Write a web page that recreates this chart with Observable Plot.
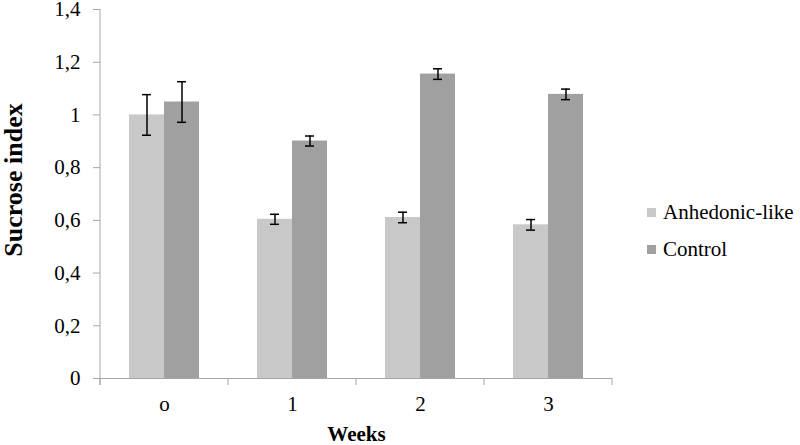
<!DOCTYPE html>
<html><head><meta charset="utf-8">
<script src="https://cdn.jsdelivr.net/npm/d3@7"></script>
<script src="https://cdn.jsdelivr.net/npm/@observablehq/plot@0.6"></script>
<style>
body{margin:0;background:#fff;}
#wrap{position:relative;width:800px;height:445px;font-family:"Liberation Serif","Times New Roman",serif;}
#wrap svg, #wrap svg text{font-family:"Liberation Serif","Times New Roman",serif !important;}
#legend{position:absolute;left:647px;top:0;font-size:21px;color:#000;}
.item{position:absolute;left:0;white-space:nowrap;display:flex;align-items:center;height:24px;line-height:24px;}
.sw{width:9px;height:9px;margin-right:7px;margin-top:1px;}
</style></head><body><div id="wrap"><div id="legend"></div></div>
<script>
const weeks = ["o", "1", "2", "3"];
const groups = ["Anhedonic-like", "Control"];
const anhedonic = [1.0, 0.604, 0.611, 0.583];
const anhedonicErr = [0.077, 0.019, 0.02, 0.02];
const control = [1.049, 0.901, 1.155, 1.078];
const controlErr = [0.077, 0.019, 0.02, 0.02];
const yTicks = [0, 0.2, 0.4, 0.6, 0.8, 1, 1.2, 1.4];
const colors = ["#c8c8c8", "#a0a0a0"];

const rows = [];
weeks.forEach((w, i) => {
  rows.push({week: w, group: groups[0], value: anhedonic[i], err: anhedonicErr[i]});
  rows.push({week: w, group: groups[1], value: control[i], err: controlErr[i]});
});

const fmt = d => String(Math.round(d * 10) / 10).replace(".", ",");

const chart = Plot.plot({
  width: 800,
  height: 445,
  marginLeft: 99,
  marginRight: 187,
  marginTop: 9,
  marginBottom: 67,
  style: {fontFamily: "Liberation Serif", fontSize: "21px", color: "#000", background: "#fff"},
  fx: {domain: weeks, padding: 0, label: "Weeks", axis: "bottom", tickSize: 0, tickPadding: 18, labelAnchor: "center", labelOffset: 62, labelArrow: false},
  x: {domain: groups, axis: null, paddingInner: 0, paddingOuter: 0.785},
  y: {domain: [0, 1.4], ticks: yTicks, tickFormat: fmt, label: "Sucrose index", labelAnchor: "center", labelOffset: 97, tickSize: 7, tickPadding: 13, labelArrow: false},
  color: {domain: groups, range: colors},
  marks: [
    Plot.barY(rows, {fx: "week", x: "group", y: "value", fill: "group"}),
    Plot.ruleX(rows, {fx: "week", x: "group", y1: d => d.value - d.err, y2: d => d.value + d.err, stroke: "#000", strokeWidth: 1.5}),
    Plot.tickY(rows, {fx: "week", x: "group", y: d => d.value - d.err, stroke: "#000", strokeWidth: 1.5, insetLeft: 13, insetRight: 13}),
    Plot.tickY(rows, {fx: "week", x: "group", y: d => d.value + d.err, stroke: "#000", strokeWidth: 1.5, insetLeft: 13, insetRight: 13}),
    Plot.ruleY([0], {stroke: "#a6a6a6"})
  ]
});

document.getElementById("wrap").prepend(chart);

const svg = d3.select(chart);
const yS = chart.scale("y");
const fxS = chart.scale("fx");
const axisColor = "#a6a6a6";
svg.selectAll('g[aria-label="y-axis tick"] path').attr("stroke", axisColor);
svg.selectAll('g[aria-label="y-axis tick"]').attr("stroke", axisColor);
const yl = svg.selectAll('g[aria-label="y-axis label"]');
yl.style("font-size", "26px").style("font-weight", "bold")
  .attr("transform", function() { return "translate(0,-14) " + (this.getAttribute("transform") || ""); });
svg.selectAll('g[aria-label="y-axis label"] text').style("font-size", "26px").style("font-weight", "bold");
svg.selectAll('g[aria-label="fx-axis label"] text, g[aria-label="fx-axis label"]')
  .style("font-size", "21px").style("font-weight", "bold");

const y0 = yS.apply(0), y1 = yS.apply(1.4);
const x0 = fxS.apply(weeks[0]);
const g = svg.append("g").attr("stroke", axisColor).attr("stroke-width", 1);
g.append("line").attr("x1", x0).attr("x2", x0).attr("y1", y1).attr("y2", y0 + 7);
const bounds = weeks.map(w => fxS.apply(w)).concat([fxS.apply(weeks[weeks.length - 1]) + fxS.bandwidth]);
bounds.forEach(b => g.append("line").attr("x1", b).attr("x2", b).attr("y1", y0).attr("y2", y0 + 7));

const legend = d3.select("#legend");
const legendTops = [200, 237];
groups.forEach((gName, i) => {
  const it = legend.append("div").attr("class", "item").style("top", legendTops[i] + "px");
  it.append("div").attr("class", "sw").style("background", colors[i]);
  it.append("span").text(gName);
});
</script></body></html>
